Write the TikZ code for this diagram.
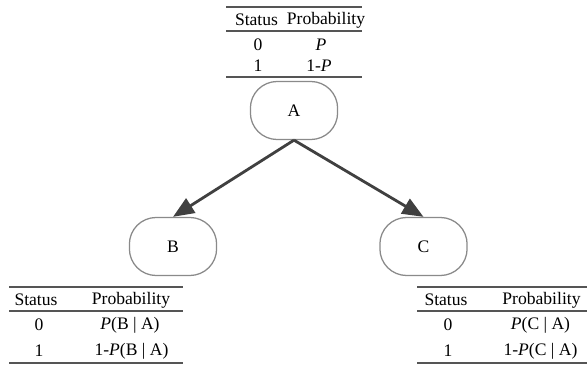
\documentclass[tikz,border=0pt]{standalone}
\usepackage{tikz}
\usetikzlibrary{arrows.meta,positioning}
\usepackage{fontspec}
\setmainfont{Liberation Serif}
\definecolor{edge}{HTML}{404040}
\definecolor{rim}{HTML}{8A8A8A}
\definecolor{rulec}{HTML}{555555}

\begin{document}
\begin{tikzpicture}[x=0.025cm, y=-0.025cm,
  state/.style={rectangle, draw=rim, line width=0.9pt, fill=white, rounded corners=19pt,
    minimum width=2.18cm, minimum height=1.45cm, inner sep=0pt, font=\fontsize{12.5}{14}\selectfont},
  cell/.style={inner sep=0pt, font=\fontsize{12.5}{14}\selectfont},
  hrule/.style={draw=rulec, line width=0.9pt},
  arr/.style={-{Triangle[length=15pt, width=12pt]}, line width=2pt, edge}
]
  \useasboundingbox (0,0) rectangle (587,367);

  % states
  \node[state] (a) at (294,110.5) {A};
  \node[state] (b) at (173,246.5) {B};
  \node[state] (c) at (423.5,246.5) {C};

  \draw[arr] (a.south) -- (b.north);
  \draw[arr] (a.south) -- (c.north);

  % table of A
  \draw[hrule] (226,7) -- (362,7);
  \draw[hrule, line width=1.2pt] (226,31) -- (362,31);
  \draw[hrule] (226,77) -- (362,77);
  \node[cell] (ta-h1) at (256.5,20) {Status};
  \node[cell] (ta-h2) at (326,20) {Probability};
  \node[cell] (ta-s0) at (258,45) {0};
  \node[cell] (ta-p0) at (321,45) {\textit{P}};
  \node[cell] (ta-s1) at (258,66) {1};
  \node[cell] (ta-p1) at (319,66) {1-\textit{P}};

  % table of B
  \draw[hrule] (9,287) -- (183,287);
  \draw[hrule] (9,311) -- (183,311);
  \draw[hrule] (9,363) -- (183,363);
  \node[cell] (tb-h1) at (36,300) {Status};
  \node[cell] (tb-h2) at (131,300) {Probability};
  \node[cell] (tb-s0) at (39,325) {0};
  \node[cell] (tb-p0) at (130,325) {\textit{P}(B\ |\ A)};
  \node[cell] (tb-s1) at (39,351) {1};
  \node[cell] (tb-p1) at (131.5,351) {1-\textit{P}(B\ |\ A)};

  % table of C
  \draw[hrule] (417,287) -- (587,287);
  \draw[hrule] (417,311) -- (587,311);
  \draw[hrule] (417,363) -- (587,363);
  \node[cell] (tc-h1) at (446,300) {Status};
  \node[cell] (tc-h2) at (541.5,300) {Probability};
  \node[cell] (tc-s0) at (448,325) {0};
  \node[cell] (tc-p0) at (540.5,325) {\textit{P}(C\ |\ A)};
  \node[cell] (tc-s1) at (448,351) {1};
  \node[cell] (tc-p1) at (540.5,351) {1-\textit{P}(C\ |\ A)};
\end{tikzpicture}
\end{document}
